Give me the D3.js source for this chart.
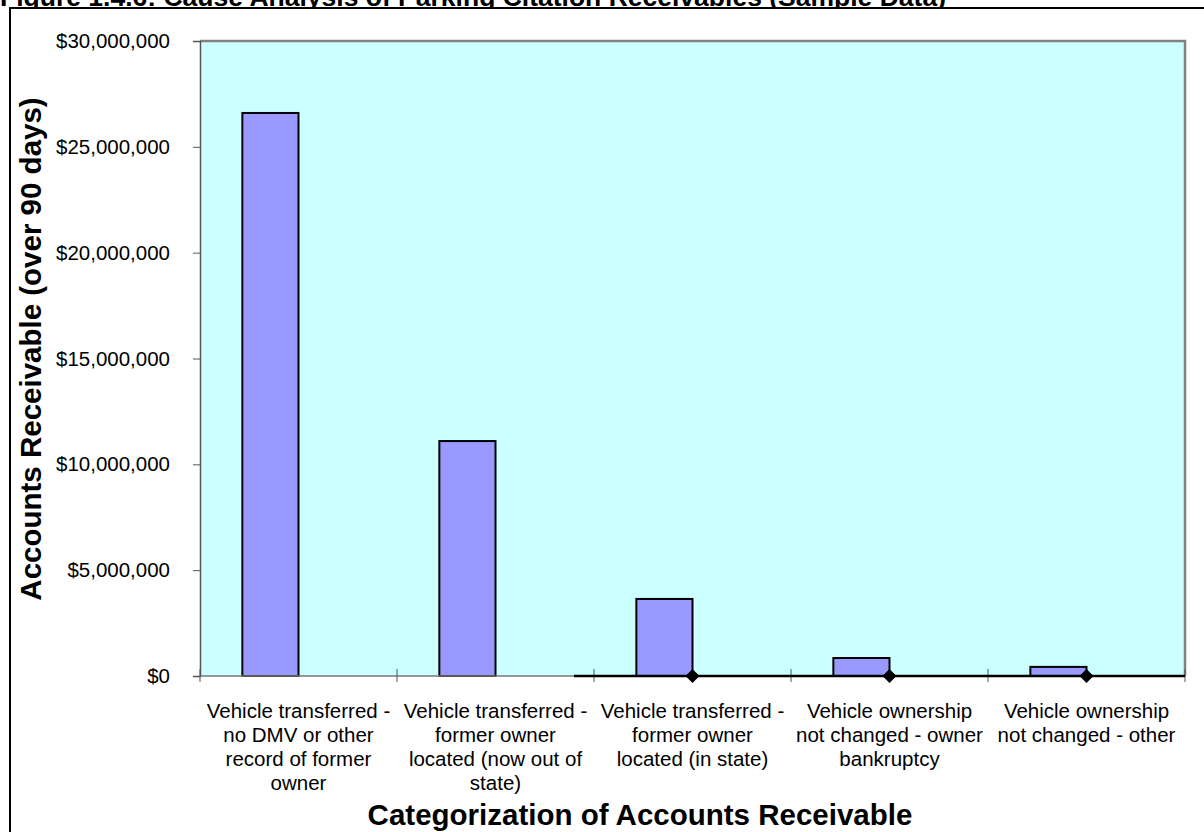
<!DOCTYPE html>
<html>
<head>
<meta charset="utf-8">
<script src="https://cdn.jsdelivr.net/npm/d3@7"></script>
<style>
  html, body { margin: 0; padding: 0; background: #fff; }
  svg { display: block; font-family: Arial, "Liberation Sans", sans-serif; }
</style>
</head>
<body>
<svg id="chart" width="1204" height="832"></svg>
<script>
// Accounts receivable over 90 days, by cause
const categories = [
  ["Vehicle transferred -", "no DMV or other", "record of former", "owner"],
  ["Vehicle transferred -", "former owner", "located (now out of", "state)"],
  ["Vehicle transferred -", "former owner", "located (in state)"],
  ["Vehicle ownership", "not changed - owner", "bankruptcy"],
  ["Vehicle ownership", "not changed - other"]
];
const receivables = [26600000, 11100000, 3640000, 850000, 430000];
// second series: zero-valued markers on categories 3-5
const markerIndex = [2, 3, 4];
const markerValues = [0, 0, 0];
const yTicks = [0, 5000000, 10000000, 15000000, 20000000, 25000000, 30000000];

const svg = d3.select("#chart");
const W = 1204, H = 832;
const plot = { left: 200, right: 1185, top: 41, bottom: 676 };

// title (sits above the frame line, partly off the top edge)
svg.append("text").attr("x", 0).attr("y", 6)
  .attr("font-size", 26.5).attr("font-weight", "bold")
  .text("Figure 1.4.6: Cause Analysis of Parking Citation Receivables (Sample Data)");

// outer frame
svg.append("rect").attr("x", 0).attr("y", 8).attr("width", W).attr("height", H).attr("fill", "#fff");
svg.append("line").attr("x1", 9).attr("x2", W).attr("y1", 8).attr("y2", 8)
  .attr("stroke", "#000").attr("stroke-width", 2);
svg.append("line").attr("x1", 10).attr("x2", 10).attr("y1", 8).attr("y2", H)
  .attr("stroke", "#000").attr("stroke-width", 2);

const x = d3.scaleBand().domain(d3.range(categories.length))
  .range([plot.left, plot.right]).padding(0);
const y = d3.scaleLinear().domain([0, 30000000]).range([plot.bottom, plot.top]);

// plot area
svg.append("rect").attr("x", plot.left).attr("y", plot.top)
  .attr("width", plot.right - plot.left).attr("height", plot.bottom - plot.top)
  .attr("fill", "#CCFFFF");
svg.append("path")
  .attr("d", `M${plot.left},${plot.top}H${plot.right}V${plot.bottom}`)
  .attr("fill", "none").attr("stroke", "#808080").attr("stroke-width", 2.5);

// bars: left half of a two-slot cluster
const barW = x.bandwidth() * 0.285;
svg.append("g").selectAll("rect").data(receivables).join("rect")
  .attr("x", (d, i) => x(i) + x.bandwidth() / 2 - barW)
  .attr("y", d => y(d))
  .attr("width", barW)
  .attr("height", d => y(0) - y(d))
  .attr("fill", "#9999FF").attr("stroke", "#000").attr("stroke-width", 2);

// y axis
const yAxis = d3.axisLeft(y).tickValues(yTicks).tickSize(7).tickPadding(23)
  .tickFormat(d => "$" + d3.format(",")(d));
const gy = svg.append("g").attr("transform", `translate(${plot.left},0)`).call(yAxis);
gy.attr("font-size", null).attr("font-family", null);
gy.select(".domain").attr("stroke", "#555").attr("stroke-width", 1.5);
gy.selectAll(".tick line").attr("stroke", "#555");
gy.selectAll(".tick text").style("font-size", "20.5px").attr("fill", "#000");

// x axis baseline and category boundary ticks
svg.append("line").attr("x1", plot.left).attr("x2", plot.right)
  .attr("y1", plot.bottom).attr("y2", plot.bottom)
  .attr("stroke", "#777").attr("stroke-width", 1.5);
const bounds = d3.range(categories.length + 1).map(i => plot.left + i * x.step());
svg.append("g").selectAll("line").data(bounds).join("line")
  .attr("x1", d => d).attr("x2", d => d)
  .attr("y1", plot.bottom - 7).attr("y2", plot.bottom + 6)
  .attr("stroke", "#555").attr("stroke-width", 1);

// zero-valued line series with diamond markers
const cx = i => x(i) + x.bandwidth() / 2;
svg.append("line")
  .attr("x1", x(markerIndex[0]) - 20).attr("x2", plot.right)
  .attr("y1", y(0)).attr("y2", y(0))
  .attr("stroke", "#000").attr("stroke-width", 2.5);
svg.append("g").selectAll("path").data(markerIndex).join("path")
  .attr("d", (d, k) => {
    const px = cx(d), py = y(markerValues[k]), r = 7;
    return `M${px},${py - r}L${px + r},${py}L${px},${py + r}L${px - r},${py}Z`;
  })
  .attr("fill", "#000");

// category labels
const lab = svg.append("g").style("font-size", "20.5px").attr("text-anchor", "middle");
categories.forEach((lines, i) => {
  const t = lab.append("text").attr("x", cx(i)).attr("y", 718);
  lines.forEach((ln, k) => {
    t.append("tspan").attr("x", cx(i)).attr("dy", k === 0 ? 0 : 24).text(ln);
  });
});

// axis titles
svg.append("text").attr("x", 640).attr("y", 825)
  .attr("text-anchor", "middle").style("font-size", "29.5px").attr("font-weight", "bold")
  .text("Categorization of Accounts Receivable");
svg.append("text")
  .attr("transform", `translate(41,349) rotate(-90)`)
  .attr("text-anchor", "middle").style("font-size", "29.5px").attr("font-weight", "bold")
  .text("Accounts Receivable (over 90 days)");
</script>
</body>
</html>
